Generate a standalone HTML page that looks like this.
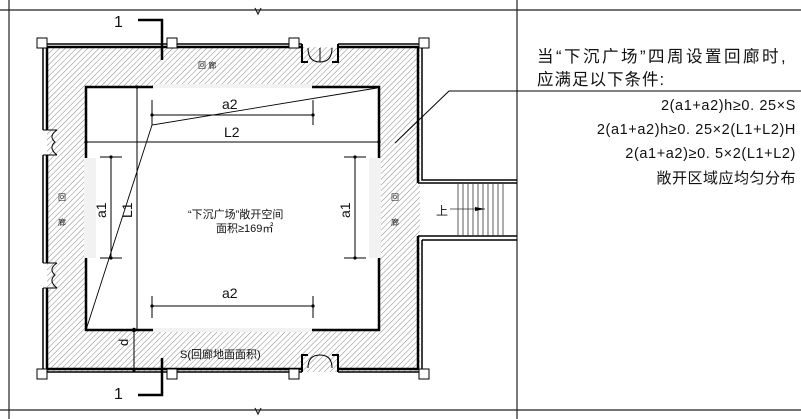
<!DOCTYPE html>
<html><head><meta charset="utf-8"><style>
html,body{margin:0;padding:0;background:#fff;width:801px;height:419px;overflow:hidden}
text{font-family:"Liberation Sans","Noto Sans CJK SC",sans-serif;fill:#111}
</style></head><body>
<svg width="801" height="419" viewBox="0 0 801 419" xmlns="http://www.w3.org/2000/svg">
<defs>
<pattern id="h" width="4" height="4" patternUnits="userSpaceOnUse" patternTransform="rotate(45)">
<rect width="4" height="4" fill="#fff"/><line x1="0" y1="0" x2="0" y2="4" stroke="#888" stroke-width="1"/>
</pattern>
</defs>
<g stroke="#222" stroke-width="1.2" fill="none">
<line x1="0" y1="10" x2="801" y2="10"/>
<line x1="0" y1="410" x2="801" y2="410"/>
<line x1="9" y1="0" x2="9" y2="419"/>
<line x1="517" y1="0" x2="517" y2="419"/>
<polyline points="255,8 258,14 261,8" />
<polyline points="255,408 258,414 261,408"/>
</g>
<path d="M47,47 H420 V372 H47 Z M85,86 V330 H380 V86 Z" fill="url(#h)" fill-rule="evenodd"/>
<rect x="153" y="84" width="159" height="4" fill="#f2f2f2"/>
<rect x="153" y="328" width="159" height="4" fill="#f2f2f2"/>
<rect x="84" y="158" width="12" height="100" fill="#f2f2f2"/>
<rect x="369" y="158" width="12" height="100" fill="#f2f2f2"/>
<g stroke="#000" fill="none">
<path d="M43,44 H302 M338,44 H422 V180 H517 M422,240 H517 M418,236 H517 M418,183 H517" stroke-width="1.5"/>
<path d="M47,47 H302 M338,47 H418 V183 M418,236 V369 H338 M302,369 H47 V288 M47,263 V155 M47,130 V47" stroke-width="2.5"/>
<path d="M43,44 V130 M43,155 V263 M43,288 V372 H302 M338,372 H422 V240" stroke-width="1.5"/>
<path d="M302,44 V62 H308 M338,44 V62 H332 M302,372 V355 H308 M338,372 V355 H332" stroke-width="2"/>
<path d="M308,48 Q308,62 320,62 Q320,48 320,48 M320,62 Q332,62 332,48 M308,368 Q308,355 320,355 M320,355 Q332,355 332,368" stroke-width="1"/>
<path d="M43,130 H57 M43,155 H57 M43,263 H57 M43,288 H57 M57,130 Q48,136 55,142 Q48,148 57,155 M57,263 Q48,269 55,275 Q48,281 57,288" stroke-width="1"/>
</g>
<g fill="#fff" stroke="#000" stroke-width="1">
<rect x="37" y="38" width="10" height="10"/><rect x="167" y="38" width="10" height="10"/>
<rect x="289" y="38" width="10" height="10"/><rect x="419" y="38" width="10" height="10"/>
<rect x="37" y="369" width="10" height="10"/><rect x="167" y="369" width="10" height="10"/>
<rect x="289" y="369" width="10" height="10"/><rect x="419" y="369" width="10" height="10"/>
</g>
<g stroke="#333" stroke-width="0.8">
<line x1="458" y1="183" x2="458" y2="236"/><line x1="463" y1="183" x2="463" y2="236"/>
<line x1="468" y1="183" x2="468" y2="236"/><line x1="473" y1="183" x2="473" y2="236"/>
<line x1="478" y1="183" x2="478" y2="236"/><line x1="483" y1="183" x2="483" y2="236"/>
<line x1="488" y1="183" x2="488" y2="236"/><line x1="493" y1="183" x2="493" y2="236"/>
<line x1="498" y1="183" x2="498" y2="236"/><line x1="503" y1="183" x2="503" y2="236"/>
<line x1="450" y1="209" x2="485" y2="209"/>
</g>
<polygon points="485,209 475,207 475,211" fill="#000"/>
<text x="436" y="215" font-size="12">上</text>
<g stroke="#000" stroke-width="2.5" fill="none">
<path d="M153,87 H86 V158 M312,87 H379 V158 M86,258 V330 H153 M379,258 V330 H312"/>
</g>
<g stroke="#000" stroke-width="1" fill="none">
<line x1="152" y1="115" x2="313" y2="115"/><line x1="152" y1="100" x2="152" y2="125"/><line x1="313" y1="100" x2="313" y2="125"/>
<line x1="86" y1="142" x2="379" y2="142"/>
<line x1="152" y1="306" x2="313" y2="306"/><line x1="152" y1="296" x2="152" y2="318"/><line x1="313" y1="296" x2="313" y2="318"/>
<line x1="111" y1="157" x2="111" y2="258"/><line x1="100" y1="157" x2="122" y2="157"/><line x1="100" y1="258" x2="122" y2="258"/>
<line x1="355" y1="157" x2="355" y2="258"/><line x1="344" y1="157" x2="366" y2="157"/><line x1="344" y1="258" x2="366" y2="258"/>
<line x1="137" y1="87" x2="137" y2="330"/>
<line x1="134" y1="330" x2="134" y2="370"/>
<polyline points="86,330 152,125 377,88" stroke-width="0.9"/>
<polyline points="395,143 449,91 801,91" stroke-width="1"/>
<path d="M138,20 H162 V60 M162,358 V395 H138" stroke-width="2.5"/>
</g>
<g fill="#000">
<circle cx="152" cy="115" r="1.6"/><circle cx="313" cy="115" r="1.6"/><circle cx="86" cy="142" r="1.6"/><circle cx="379" cy="142" r="1.6"/>
<circle cx="152" cy="306" r="1.6"/><circle cx="313" cy="306" r="1.6"/><circle cx="111" cy="157" r="1.6"/><circle cx="111" cy="258" r="1.6"/>
<circle cx="355" cy="157" r="1.6"/><circle cx="355" cy="258" r="1.6"/><circle cx="137" cy="87" r="1.6"/><circle cx="134" cy="330" r="2.2"/><circle cx="134" cy="370" r="1.6"/>
</g>
<text x="222" y="109" font-size="14">a2</text>
<text x="224" y="137" font-size="14">L2</text>
<text x="222" y="298" font-size="14">a2</text>
<text x="0" y="0" font-size="14" transform="translate(106,218) rotate(-90)">a1</text>
<text x="0" y="0" font-size="14" transform="translate(350,218) rotate(-90)">a1</text>
<text x="0" y="0" font-size="14" transform="translate(132,218) rotate(-90)">L1</text>
<text x="0" y="0" font-size="13" transform="translate(128,346) rotate(-90)">d</text>
<text x="114" y="27" font-size="16">1</text>
<text x="114" y="399" font-size="16">1</text>
<text x="198" y="68" font-size="8" fill="#444">回 廊</text>
<text x="58" y="200" font-size="8" fill="#444">回</text>
<text x="58" y="225" font-size="8" fill="#444">廊</text>
<text x="391" y="200" font-size="8" fill="#444">回</text>
<text x="391" y="225" font-size="8" fill="#444">廊</text>
<text x="188" y="218" font-size="11">“下沉广场”敞开空间</text>
<text x="216" y="232" font-size="11">面积≥169㎡</text>
<text x="180" y="358" font-size="11">S(回廊地面面积)</text>
<text x="537" y="62" font-size="16.5" letter-spacing="2.5">当“下沉广场”四周设置回廊时,</text>
<text x="537" y="85" font-size="16.5" letter-spacing="1">应满足以下条件:</text>
<g font-size="14.5" text-anchor="end" letter-spacing="0.6">
<text x="796" y="110">2(a1+a2)h≥0. 25×S</text>
<text x="796" y="134">2(a1+a2)h≥0. 25×2(L1+L2)H</text>
<text x="796" y="158">2(a1+a2)≥0. 5×2(L1+L2)</text>
<text x="796" y="183" font-size="15" letter-spacing="0.5">敞开区域应均匀分布</text>
</g>
</svg>
</body></html>
